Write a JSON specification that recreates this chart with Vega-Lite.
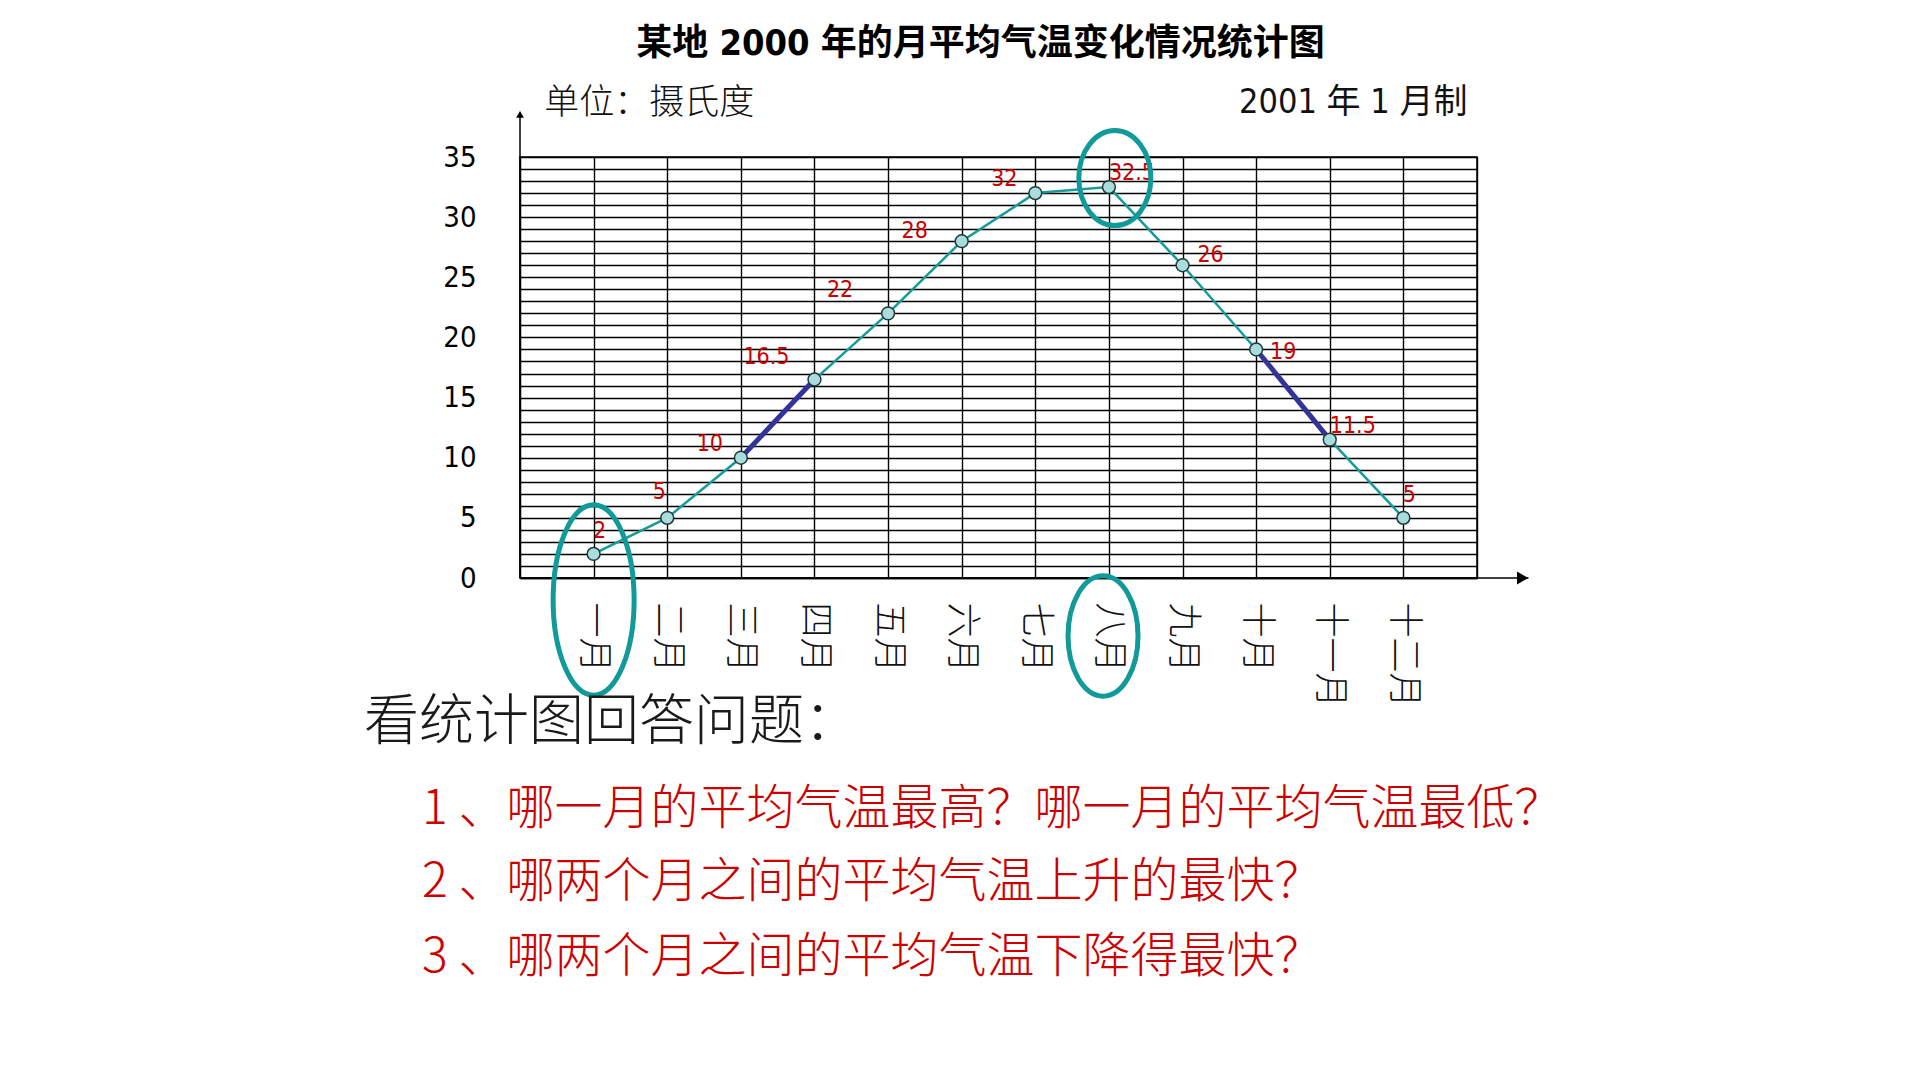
{
  "$schema": "https://vega.github.io/schema/vega-lite/v6.json",
  "width": 957,
  "height": 421,
  "autosize": {"type": "none"},
  "padding": {"left": 520, "top": 157, "right": 443, "bottom": 502},
  "background": "white",
  "title": {
    "text": "某地 2000 年的月平均气温变化情况统计图",
    "font": "DejaVu Sans Condensed, Noto Sans CJK SC, sans-serif",
    "fontSize": 36,
    "fontWeight": "bold",
    "color": "#000000",
    "anchor": "middle",
    "dx": -18,
    "offset": 23
  },
  "data": {
    "values": [
      {"m": 1, "month": "一月", "t": 2},
      {"m": 2, "month": "二月", "t": 5},
      {"m": 3, "month": "三月", "t": 10},
      {"m": 4, "month": "四月", "t": 16.5},
      {"m": 5, "month": "五月", "t": 22},
      {"m": 6, "month": "六月", "t": 28},
      {"m": 7, "month": "七月", "t": 32},
      {"m": 8, "month": "八月", "t": 32.5},
      {"m": 9, "month": "九月", "t": 26},
      {"m": 10, "month": "十月", "t": 19},
      {"m": 11, "month": "十一月", "t": 11.5},
      {"m": 12, "month": "十二月", "t": 5}
    ]
  },
  "layer": [
    {
      "mark": {"type": "line", "color": "#169b9b", "strokeWidth": 2.5},
      "encoding": {
        "x": {
          "field": "m",
          "type": "quantitative",
          "scale": {"domain": [0, 13], "nice": false, "zero": false},
          "axis": {
            "title": null,
            "values": [1, 2, 3, 4, 5, 6, 7, 8, 9, 10, 11, 12, 13],
            "tickCount": 14,
            "grid": true,
            "gridColor": "#000000",
            "gridWidth": 1.4,
            "gridOpacity": 1,
            "ticks": false,
            "tickSize": 0,
            "domain": true,
            "domainColor": "#000000",
            "domainWidth": 1.5,
            "labelExpr": "['','一月','二月','三月','四月','五月','六月','七月','八月','九月','十月','十一月','十二月',''][datum.value]",
            "labelAngle": 90,
            "labelFont": "Noto Sans CJK SC",
            "labelFontWeight": 300,
            "labelFontSize": 35,
            "labelColor": "#111111",
            "labelPadding": 24,
            "labelOverlap": false,
            "labelBound": false,
            "labelFlush": false
          }
        },
        "y": {
          "field": "t",
          "type": "quantitative",
          "scale": {"domain": [0, 35], "nice": false, "zero": true},
          "axis": {
            "title": null,
            "values": [0, 1, 2, 3, 4, 5, 6, 7, 8, 9, 10, 11, 12, 13, 14, 15, 16, 17, 18, 19, 20, 21, 22, 23, 24, 25, 26, 27, 28, 29, 30, 31, 32, 33, 34, 35],
            "tickCount": 36,
            "grid": true,
            "gridColor": "#000000",
            "gridWidth": 1.3,
            "gridOpacity": 1,
            "ticks": false,
            "tickSize": 0,
            "domain": true,
            "domainColor": "#000000",
            "domainWidth": 1.5,
            "labelExpr": "datum.value % 5 == 0 ? datum.label : ''",
            "labelFont": "DejaVu Sans Condensed, sans-serif",
            "labelFontSize": 29,
            "labelColor": "#000000",
            "labelPadding": 44,
            "labelOverlap": false,
            "labelBound": false,
            "labelFlush": false
          }
        }
      }
    },
    {
      "data": {"values": [{}]},
      "mark": {"type": "rule", "color": "#000000", "strokeWidth": 1.5},
      "encoding": {
        "x": {"datum": 0, "type": "quantitative"},
        "x2": {"datum": 13.7},
        "y": {"datum": 0, "type": "quantitative"}
      }
    },
    {
      "data": {"values": [{}]},
      "mark": {"type": "rule", "color": "#000000", "strokeWidth": 1.5},
      "encoding": {
        "x": {"datum": 0, "type": "quantitative"},
        "y": {"datum": 0, "type": "quantitative"},
        "y2": {"datum": 38.7}
      }
    },
    {
      "data": {"values": [{}]},
      "mark": {"type": "point", "shape": "triangle-right", "filled": true, "color": "#000000", "size": 170, "opacity": 1},
      "encoding": {
        "x": {"datum": 13.62, "type": "quantitative"},
        "y": {"datum": 0, "type": "quantitative"}
      }
    },
    {
      "data": {"values": [{}]},
      "mark": {"type": "point", "shape": "triangle-up", "filled": true, "color": "#000000", "size": 60, "opacity": 1},
      "encoding": {
        "x": {"datum": 0, "type": "quantitative"},
        "y": {"datum": 38.55, "type": "quantitative"}
      }
    },
    {
      "transform": [{"filter": "datum.m >= 3 && datum.m <= 4"}],
      "mark": {"type": "line", "color": "#333399", "strokeWidth": 5},
      "encoding": {
        "x": {"field": "m", "type": "quantitative"},
        "y": {"field": "t", "type": "quantitative"}
      }
    },
    {
      "transform": [{"filter": "datum.m >= 10 && datum.m <= 11"}],
      "mark": {"type": "line", "color": "#333399", "strokeWidth": 5},
      "encoding": {
        "x": {"field": "m", "type": "quantitative"},
        "y": {"field": "t", "type": "quantitative"}
      }
    },
    {
      "mark": {"type": "point", "shape": "circle", "filled": true, "fill": "#aadcdc", "stroke": "#1e3c3c", "strokeWidth": 1.5, "size": 165, "opacity": 1},
      "encoding": {
        "x": {"field": "m", "type": "quantitative"},
        "y": {"field": "t", "type": "quantitative"}
      }
    },
    {
      "transform": [{"filter": "datum.m == 1 || datum.m == 12"}],
      "mark": {"type": "text", "color": "#cc0000", "font": "DejaVu Sans Condensed, sans-serif", "fontSize": 23, "align": "center", "baseline": "middle", "dx": 6, "dy": -23},
      "encoding": {"x": {"field": "m", "type": "quantitative"}, "y": {"field": "t", "type": "quantitative"}, "text": {"field": "t", "type": "quantitative"}}
    },
    {
      "transform": [{"filter": "datum.m == 2"}],
      "mark": {"type": "text", "color": "#cc0000", "font": "DejaVu Sans Condensed, sans-serif", "fontSize": 23, "align": "center", "baseline": "middle", "dx": -8, "dy": -26},
      "encoding": {"x": {"field": "m", "type": "quantitative"}, "y": {"field": "t", "type": "quantitative"}, "text": {"field": "t", "type": "quantitative"}}
    },
    {
      "transform": [{"filter": "datum.m == 3 || datum.m == 7"}],
      "mark": {"type": "text", "color": "#cc0000", "font": "DejaVu Sans Condensed, sans-serif", "fontSize": 23, "align": "center", "baseline": "middle", "dx": -31, "dy": -14},
      "encoding": {"x": {"field": "m", "type": "quantitative"}, "y": {"field": "t", "type": "quantitative"}, "text": {"field": "t", "type": "quantitative"}}
    },
    {
      "transform": [{"filter": "datum.m == 4 || datum.m == 5"}],
      "mark": {"type": "text", "color": "#cc0000", "font": "DejaVu Sans Condensed, sans-serif", "fontSize": 23, "align": "center", "baseline": "middle", "dx": -48, "dy": -23},
      "encoding": {"x": {"field": "m", "type": "quantitative"}, "y": {"field": "t", "type": "quantitative"}, "text": {"field": "t", "type": "quantitative"}}
    },
    {
      "transform": [{"filter": "datum.m == 6"}],
      "mark": {"type": "text", "color": "#cc0000", "font": "DejaVu Sans Condensed, sans-serif", "fontSize": 23, "align": "center", "baseline": "middle", "dx": -47, "dy": -10},
      "encoding": {"x": {"field": "m", "type": "quantitative"}, "y": {"field": "t", "type": "quantitative"}, "text": {"field": "t", "type": "quantitative"}}
    },
    {
      "transform": [{"filter": "datum.m == 8 || datum.m == 11"}],
      "mark": {"type": "text", "color": "#cc0000", "font": "DejaVu Sans Condensed, sans-serif", "fontSize": 23, "align": "center", "baseline": "middle", "dx": 23, "dy": -14},
      "encoding": {"x": {"field": "m", "type": "quantitative"}, "y": {"field": "t", "type": "quantitative"}, "text": {"field": "t", "type": "quantitative"}}
    },
    {
      "transform": [{"filter": "datum.m == 9"}],
      "mark": {"type": "text", "color": "#cc0000", "font": "DejaVu Sans Condensed, sans-serif", "fontSize": 23, "align": "center", "baseline": "middle", "dx": 28, "dy": -10},
      "encoding": {"x": {"field": "m", "type": "quantitative"}, "y": {"field": "t", "type": "quantitative"}, "text": {"field": "t", "type": "quantitative"}}
    },
    {
      "transform": [{"filter": "datum.m == 10"}],
      "mark": {"type": "text", "color": "#cc0000", "font": "DejaVu Sans Condensed, sans-serif", "fontSize": 23, "align": "center", "baseline": "middle", "dx": 27, "dy": 3},
      "encoding": {"x": {"field": "m", "type": "quantitative"}, "y": {"field": "t", "type": "quantitative"}, "text": {"field": "t", "type": "quantitative"}}
    },
    {
      "data": {"values": [{}]},
      "mark": {"type": "point", "shape": "M1,0C1,1.298,0.552,2.35,0,2.35C-0.552,2.35,-1,1.298,-1,0C-1,-1.298,-0.552,-2.35,0,-2.35C0.552,-2.35,1,-1.298,1,0Z", "filled": false, "stroke": "#119a9a", "strokeWidth": 5, "size": 6561, "opacity": 1},
      "encoding": {"x": {"datum": 1, "type": "quantitative"}, "y": {"datum": -1.83, "type": "quantitative"}}
    },
    {
      "data": {"values": [{}]},
      "mark": {"type": "point", "shape": "M1,0C1,0.95,0.552,1.72,0,1.72C-0.552,1.72,-1,0.95,-1,0C-1,-0.95,-0.552,-1.72,0,-1.72C0.552,-1.72,1,-0.95,1,0Z", "filled": false, "stroke": "#119a9a", "strokeWidth": 5, "size": 4900, "opacity": 1},
      "encoding": {"x": {"datum": 7.92, "type": "quantitative"}, "y": {"datum": -4.82, "type": "quantitative"}}
    },
    {
      "data": {"values": [{}]},
      "mark": {"type": "point", "shape": "M1,0C1,0.729,0.552,1.32,0,1.32C-0.552,1.32,-1,0.729,-1,0C-1,-0.729,-0.552,-1.32,0,-1.32C0.552,-1.32,1,-0.729,1,0Z", "filled": false, "stroke": "#119a9a", "strokeWidth": 5, "size": 5184, "opacity": 1},
      "encoding": {"x": {"datum": 8.08, "type": "quantitative"}, "y": {"datum": 33.25, "type": "quantitative"}}
    },
    {
      "data": {"values": [{}]},
      "mark": {"type": "text", "text": "单位：摄氏度", "font": "Noto Sans CJK SC", "fontWeight": 300, "fontSize": 35, "color": "#111111", "align": "left", "baseline": "middle"},
      "encoding": {"x": {"datum": 0.33, "type": "quantitative"}, "y": {"datum": 39.48, "type": "quantitative"}}
    },
    {
      "data": {"values": [{}]},
      "mark": {"type": "text", "text": "2001 年 1 月制", "font": "DejaVu Sans Condensed, Noto Sans CJK SC", "fontSize": 34, "color": "#111111", "align": "right", "baseline": "middle"},
      "encoding": {"x": {"datum": 12.87, "type": "quantitative"}, "y": {"datum": 39.48, "type": "quantitative"}}
    },
    {
      "data": {"values": [{}]},
      "mark": {"type": "text", "text": "看统计图回答问题：", "font": "Noto Sans CJK SC", "fontWeight": 300, "fontSize": 55, "color": "#1a1a1a", "align": "left", "baseline": "middle"},
      "encoding": {"x": {"datum": -2.12, "type": "quantitative"}, "y": {"datum": -11.97, "type": "quantitative"}}
    },
    {
      "data": {"values": [{}]},
      "mark": {"type": "text", "text": "1 、哪一月的平均气温最高？哪一月的平均气温最低？", "font": "Noto Sans CJK SC", "fontWeight": 300, "fontSize": 48, "color": "#cc0000", "align": "left", "baseline": "middle"},
      "encoding": {"x": {"datum": -1.33, "type": "quantitative"}, "y": {"datum": -19.28, "type": "quantitative"}}
    },
    {
      "data": {"values": [{}]},
      "mark": {"type": "text", "text": "2 、哪两个月之间的平均气温上升的最快？", "font": "Noto Sans CJK SC", "fontWeight": 300, "fontSize": 48, "color": "#cc0000", "align": "left", "baseline": "middle"},
      "encoding": {"x": {"datum": -1.33, "type": "quantitative"}, "y": {"datum": -25.33, "type": "quantitative"}}
    },
    {
      "data": {"values": [{}]},
      "mark": {"type": "text", "text": "3 、哪两个月之间的平均气温下降得最快？", "font": "Noto Sans CJK SC", "fontWeight": 300, "fontSize": 48, "color": "#cc0000", "align": "left", "baseline": "middle"},
      "encoding": {"x": {"datum": -1.33, "type": "quantitative"}, "y": {"datum": -31.58, "type": "quantitative"}}
    }
  ],
  "config": {
    "view": {"stroke": "#000000", "strokeWidth": 1.5},
    "axis": {"labelFont": "Noto Sans CJK SC"}
  }
}
